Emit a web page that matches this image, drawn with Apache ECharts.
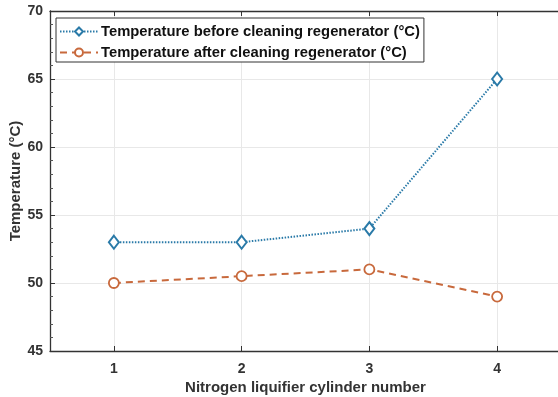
<!DOCTYPE html>
<html><head><meta charset="utf-8">
<script src="https://cdn.jsdelivr.net/npm/echarts@6/dist/echarts.min.js"></script>
<style>html,body{margin:0;padding:0;background:#fff}#c{width:558px;height:397px}</style>
</head><body><div id="c"></div>
<script>
const cylinders = [1, 2, 3, 4];
const tempBefore = [53, 53, 54, 65];
const tempAfter = [50, 50.5, 51, 49];
const seriesNames = ['Temperature before cleaning regenerator (°C)', 'Temperature after cleaning regenerator (°C)'];
const xTicks = [1, 2, 3, 4];

const chart = echarts.init(document.getElementById('c'));
const font = 'Liberation Sans, Arial, sans-serif';
chart.setOption({
  animation: false,
  backgroundColor: '#fff',
  grid: {left: 50, right: -3, top: 11, bottom: 46, containLabel: false, outerBoundsMode: 'none'},
  legend: {
    left: 56, top: 18, orient: 'vertical', itemGap: 6,
    itemWidth: 38, itemHeight: 10,
    borderColor: '#333', borderWidth: 1, padding: [6, 4, 2, 3],
    backgroundColor: '#fff',
    textStyle: {fontFamily: font, fontWeight: 'bold', fontSize: 14.8, color: '#111', padding: [0, 0, 0, -2]},
    data: seriesNames
  },
  xAxis: [{
    type: 'value', min: 0.5, max: 4.5, interval: 0.5,
    name: 'Nitrogen liquifier cylinder number', nameLocation: 'middle', nameGap: 29,
    nameMoveOverlap: false,
    nameTextStyle: {fontFamily: font, fontWeight: 'bold', fontSize: 15, color: '#333'},
    axisLine: {lineStyle: {color: '#333', width: 1.3}},
    axisTick: {inside: true, length: 5, lineStyle: {color: '#333'}, customValues: xTicks},
    axisLabel: {fontFamily: font, fontWeight: 'bold', fontSize: 14, color: '#333', margin: 11,
      customValues: xTicks, formatter: v => String(v)},
    splitLine: {show: true, lineStyle: {color: '#e8e8e8'}, customValues: xTicks}
  }, {
    type: 'value', position: 'top', min: 0.5, max: 4.5, interval: 0.5,
    axisLine: {show: true, lineStyle: {color: '#333', width: 1.3}},
    axisTick: {inside: true, length: 5, lineStyle: {color: '#333'}, customValues: xTicks},
    axisLabel: {show: false}, splitLine: {show: false}
  }],
  yAxis: {
    type: 'value', min: 45, max: 70, interval: 5,
    name: 'Temperature (°C)', nameLocation: 'middle', nameGap: 27,
    nameMoveOverlap: false,
    nameTextStyle: {fontFamily: font, fontWeight: 'bold', fontSize: 15, color: '#333'},
    axisLine: {show: true, lineStyle: {color: '#333', width: 1.3}},
    axisTick: {inside: true, length: 5, lineStyle: {color: '#333'}},
    minorTick: {show: true, splitNumber: 5, length: 3, lineStyle: {color: '#555'}},
    axisLabel: {fontFamily: font, fontWeight: 'bold', fontSize: 14, color: '#333', margin: 7},
    splitLine: {show: true, lineStyle: {color: '#e8e8e8'}}
  },
  series: [{
    name: seriesNames[0], type: 'line',
    data: cylinders.map((c, i) => [c, tempBefore[i]]),
    symbol: 'diamond', symbolSize: [10, 13],
    lineStyle: {color: '#2a7aa8', width: 2, type: [1.5, 1.5]},
    itemStyle: {color: '#fff', borderColor: '#2a7aa8', borderWidth: 2},
    color: '#2a7aa8'
  }, {
    name: seriesNames[1], type: 'line',
    data: cylinders.map((c, i) => [c, tempAfter[i]]),
    symbol: 'circle', symbolSize: 10,
    lineStyle: {color: '#c8693c', width: 2, type: [7, 5]},
    itemStyle: {color: '#fff', borderColor: '#c8693c', borderWidth: 1.8},
    color: '#c8693c'
  }]
});
</script></body></html>
